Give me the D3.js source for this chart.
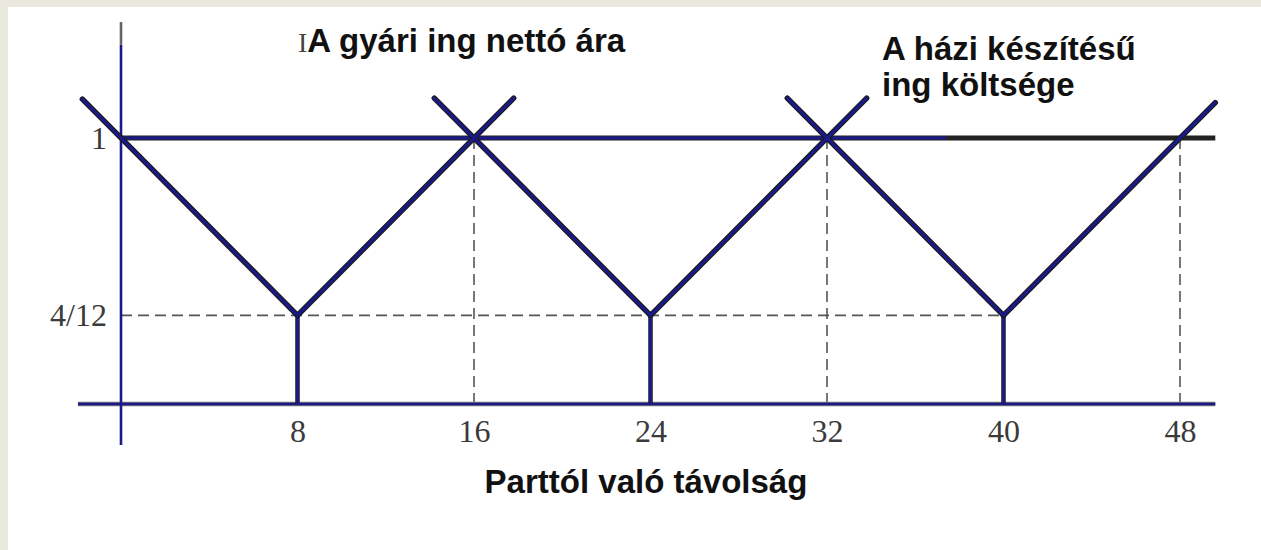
<!DOCTYPE html>
<html>
  <head>
    <meta charset="utf-8">
    <title>Gyári és házi ing</title>
    <style>
      html, body {
        margin: 0;
        padding: 0;
        background: #e9e9dd;
        overflow: hidden;
      }
      svg {
        position: absolute;
        left: 8px;
        top: 7px;
        background: #fff;
      }
      .tick text {
        font-family: 'Liberation Serif', 'Times New Roman', serif;
        font-size: 32px;
      }
      .label {
        font-family: 'Liberation Sans', Arial, sans-serif;
        font-weight: bold;
        font-size: 33px;
        fill: #111;
      }
    </style>
  </head>
  <body>
    <svg width="1253" height="543"></svg>
    <script src="https://d3js.org/d3.v7.min.js"></script>
    <script>
      // svg is shifted by 8,7 inside the page, so subtract that from page coords
      const svg = d3.select('svg').append('g').attr('transform', 'translate(-8,-7)');

      const xTicks = [8, 16, 24, 32, 40, 48];
      const yTicks = [1, 4 / 12];
      const yTickLabels = ['1', '4/12'];

      const troughs = [8, 24, 40];   // vertical stems under the V's
      const peaks = [16, 32, 48];    // dashed drops from the crossings
      const lowLevel = 4 / 12;
      const homeCost = 1;

      // arms of the factory net price (each a straight segment)
      const armX0 = [-1.75, 8, 14.2, 24, 30.2, 40];
      const armY0 = [1.146, 0.333, 1.15, 0.333, 1.15, 0.333];
      const armX1 = [8, 17.8, 24, 33.8, 40, 49.6];
      const armY1 = [0.333, 1.15, 0.333, 1.15, 0.333, 1.133];

      // home cost line: blue part then dark part
      const homeX = [0, 37.4, 49.6];

      const x = d3.scaleLinear().domain([0, 48]).range([121, 1180]);
      const y = d3.scaleLinear().domain([0, 1]).range([404, 138]);

      const navy = '#1a1a8a';
      const shadow = '#1a1a1a';

      const seg = (g, x1, y1, x2, y2) => g.append('line')
        .attr('x1', x(x1)).attr('y1', y(y1))
        .attr('x2', x(x2)).attr('y2', y(y2));

      // dashed guides
      const guides = svg.append('g')
        .attr('stroke', '#555')
        .attr('stroke-width', 1.6)
        .attr('stroke-dasharray', '11,6');
      seg(guides, 0, lowLevel, troughs[2], lowLevel);
      peaks.forEach(p => seg(guides, p, homeCost, p, 0));

      // axes lines
      const axes = svg.append('g').attr('fill', 'none');
      seg(axes, -1.95, 0, 49.6, 0).attr('stroke', '#777').attr('stroke-width', 4.5);
      seg(axes, -1.95, 0, 49.6, 0).attr('stroke', navy).attr('stroke-width', 2.6);
      seg(axes, 0, 1.436, 0, 1.35).attr('stroke', '#666').attr('stroke-width', 2.6);
      seg(axes, 0, 1.35, 0, -0.154).attr('stroke', navy).attr('stroke-width', 2.6);

      // tick labels
      svg.append('g')
        .attr('transform', `translate(0,${y(0)})`)
        .call(d3.axisBottom(x).tickValues(xTicks).tickSize(0).tickPadding(15))
        .call(g => g.select('.domain').remove())
        .selectAll('text').attr('fill', '#3a3a3a');

      svg.append('g')
        .attr('transform', `translate(${x(0)},0)`)
        .call(d3.axisLeft(y).tickValues(yTicks).tickSize(0).tickPadding(14)
          .tickFormat((d, i) => yTickLabels[i]))
        .call(g => g.select('.domain').remove())
        .selectAll('text').attr('fill', '#3a3a3a');

      // home cost line
      const home = svg.append('g').attr('stroke-linecap', 'butt');
      seg(home, homeX[0], homeCost, homeX[2], homeCost).attr('stroke', '#222').attr('stroke-width', 5);
      seg(home, homeX[0], homeCost, homeX[1], homeCost).attr('stroke', navy).attr('stroke-width', 3.2);

      // stems
      const stems = svg.append('g');
      troughs.forEach(t => {
        seg(stems, t, 0, t, lowLevel).attr('stroke', shadow).attr('stroke-width', 4.5);
        seg(stems, t, 0, t, lowLevel).attr('stroke', navy).attr('stroke-width', 3);
      });

      // factory price arms
      const arms = svg.append('g').attr('stroke-linecap', 'round');
      armX0.forEach((d, i) => {
        seg(arms, armX0[i], armY0[i], armX1[i], armY1[i]).attr('stroke', shadow).attr('stroke-width', 5.5);
      });
      armX0.forEach((d, i) => {
        seg(arms, armX0[i], armY0[i], armX1[i], armY1[i]).attr('stroke', navy).attr('stroke-width', 3);
      });

      // labels
      const t1 = svg.append('text').attr('class', 'label').attr('x', 298).attr('y', 52);
      t1.append('tspan')
        .style('font-family', "'Liberation Serif', serif")
        .style('font-weight', 'normal')
        .style('font-size', '28px')
        .attr('fill', '#444')
        .text('I');
      t1.append('tspan').text('A gyári ing nettó ára');

      svg.append('text').attr('class', 'label').attr('x', 882).attr('y', 60).text('A házi készítésű');
      svg.append('text').attr('class', 'label').attr('x', 882).attr('y', 96).text('ing költsége');

      svg.append('text').attr('class', 'label')
        .attr('x', 646).attr('y', 493)
        .attr('text-anchor', 'middle')
        .text('Parttól való távolság');
    </script>
  </body>
</html>
